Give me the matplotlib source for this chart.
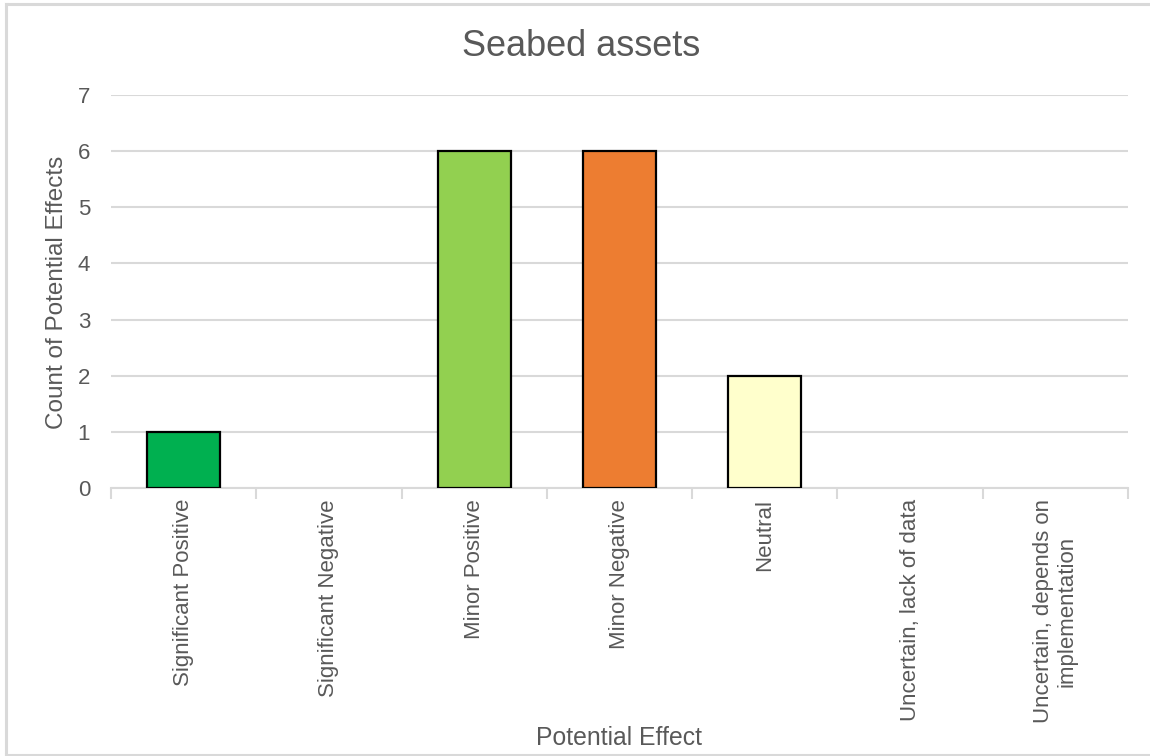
import matplotlib
matplotlib.use("Agg")
import matplotlib.pyplot as plt
from matplotlib.lines import Line2D

plt.rcParams['font.family'] = ['Liberation Sans', 'DejaVu Sans']

categories = [
    "Significant Positive",
    "Significant Negative",
    "Minor Positive",
    "Minor Negative",
    "Neutral",
    "Uncertain, lack of data",
    "Uncertain, depends on\nimplementation",
]
counts = [1, 0, 6, 6, 2, 0, 0]
bar_colors = ["#00b050", "#c00000", "#92d050", "#ed7d31", "#ffffcc", "#bfbfbf", "#a6a6a6"]
y_ticks = [0, 1, 2, 3, 4, 5, 6, 7]

W, H = 1150, 756
fig = plt.figure(figsize=(W / 100, H / 100), dpi=100)

text_gray = "#595959"
grid_gray = "#d9d9d9"

ax = fig.add_axes([111 / W, 1 - 488 / H, (1128 - 111) / W, (488 - 95) / H])

x = list(range(len(categories)))
for xi, c, col in zip(x, counts, bar_colors):
    if c > 0:
        ax.bar(xi, c, width=0.5, color=col, edgecolor="black", linewidth=1.6, zorder=3)

ax.set_xlim(-0.5, len(categories) - 0.5)
ax.set_ylim(0, 7)
ax.set_yticks(y_ticks)
ax.set_yticklabels([str(t) for t in y_ticks], fontsize=16, color=text_gray)
ax.tick_params(axis="y", length=0, pad=15)

# category labels centred, tick marks on category boundaries
ax.set_xticks(x)
ax.set_xticklabels(categories, rotation=90, fontsize=16, color=text_gray,
                   va="top", ha="center", multialignment="center")
ax.tick_params(axis="x", which="major", length=0, pad=8)
ax.set_xticks([i - 0.5 for i in range(len(categories) + 1)], minor=True)
ax.tick_params(axis="x", which="minor", length=8, width=1.5, color=grid_gray, direction="out")

ax.grid(axis="y", color=grid_gray, linewidth=1.5, zorder=0)
ax.set_axisbelow(True)
for side in ["top", "right", "left"]:
    ax.spines[side].set_visible(False)
ax.spines["bottom"].set_color(grid_gray)
ax.spines["bottom"].set_linewidth(1.5)

fig.text(57 / W, 1 - 292 / H, "Count of Potential Effects", rotation=90,
         fontsize=17.5, color=text_gray, ha="center", va="center")
fig.text(619 / W, 1 - 738 / H, "Potential Effect", fontsize=17.8,
         color=text_gray, ha="center", va="center")
fig.text(581 / W, 1 - 46 / H, "Seabed assets", fontsize=26,
         color=text_gray, ha="center", va="center")

# chart area border
bx0, by0, by1 = 5.5 / W, 1 - 754.5 / H, 1 - 4 / H
for xs, ys in [([bx0, 1.0], [by1, by1]), ([bx0, bx0], [by0, by1]), ([bx0, 1.0], [by0, by0])]:
    fig.add_artist(Line2D(xs, ys, color=grid_gray, linewidth=2.2, transform=fig.transFigure))

fig.savefig("out.png", dpi=100, facecolor="white")
